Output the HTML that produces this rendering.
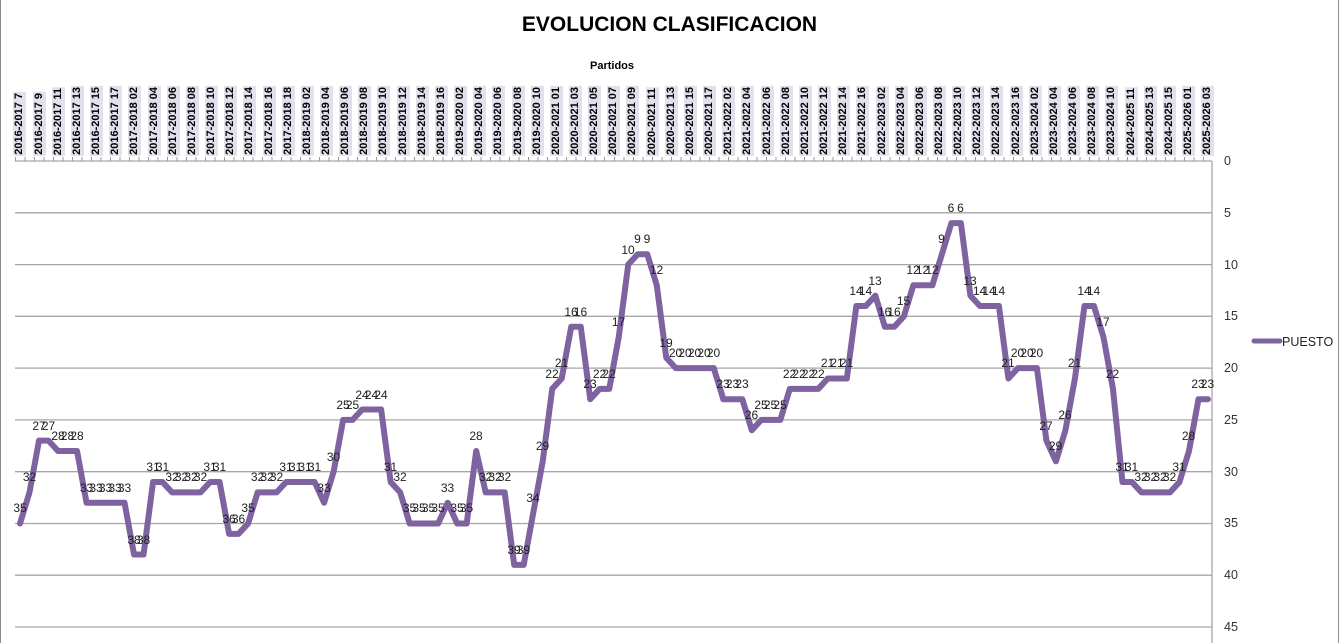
<!DOCTYPE html>
<html><head><meta charset="utf-8"><style>
*{margin:0;padding:0;box-sizing:border-box}
body{width:1339px;height:643px;background:#fff;position:relative;overflow:hidden;font-family:"Liberation Sans",Arial,sans-serif}
#frame{position:absolute;left:0;top:0;width:1339px;height:643px;border:1px solid #8c8c8c;border-top:none;border-bottom:none}
#title{position:absolute;left:0;width:1339px;top:13px;text-align:center;font-weight:bold;font-size:21px;color:#000}
#xt{position:absolute;left:0;width:1224px;top:60px;text-align:center;font-weight:bold;font-size:11px}
#cats{position:absolute;left:10.42px;top:70px;height:86px;display:flex;align-items:flex-end}
#cats div{width:19.16px;flex:none;display:flex;justify-content:center;align-items:flex-end}
#cats span{writing-mode:vertical-rl;transform:rotate(180deg);background:#e4dfec;font-size:11px;font-weight:bold;width:13px;line-height:13px;white-space:nowrap;padding:1px 0}
#ticks{position:absolute;left:15px;top:157px;width:1197px;height:4px;background:repeating-linear-gradient(90deg,#999 0 1px,transparent 1px 9.504px)}
#dl{position:absolute;left:15.25px;top:161px;display:flex}
#dl div{width:9.504px;flex:none;position:relative;height:1px}
#dl span{position:absolute;left:50%;transform:translateX(-50%);top:calc(var(--v) * 10.356px - 22px);font-size:12px;line-height:14px;white-space:nowrap;color:#222}
.yl{position:absolute;left:1224px;font-size:12.5px;line-height:14px;color:#333}
</style></head><body>
<div id="frame"></div>
<div id="title">EVOLUCION CLASIFICACION</div>
<div id="xt">Partidos</div>
<svg width="1339" height="643" style="position:absolute;left:0;top:0">
<g stroke="#a6a6a6" stroke-width="1.3">
<line x1="15" x2="1212" y1="161" y2="161"/><line x1="15" x2="1212" y1="212.8" y2="212.8"/><line x1="15" x2="1212" y1="264.6" y2="264.6"/><line x1="15" x2="1212" y1="316.3" y2="316.3"/><line x1="15" x2="1212" y1="368.1" y2="368.1"/><line x1="15" x2="1212" y1="419.9" y2="419.9"/><line x1="15" x2="1212" y1="471.7" y2="471.7"/><line x1="15" x2="1212" y1="523.5" y2="523.5"/><line x1="15" x2="1212" y1="575.2" y2="575.2"/><line x1="15" x2="1212" y1="627" y2="627"/>
<line x1="1212" x2="1212" y1="161" y2="643"/>
</g>
<polyline transform="translate(20 161) scale(9.504 10.356)" vector-effect="non-scaling-stroke" fill="none" stroke="#7f63a1" stroke-width="6" stroke-linejoin="round" stroke-linecap="round" points="0,35 1,32 2,27 3,27 4,28 5,28 6,28 7,33 8,33 9,33 10,33 11,33 12,38 13,38 14,31 15,31 16,32 17,32 18,32 19,32 20,31 21,31 22,36 23,36 24,35 25,32 26,32 27,32 28,31 29,31 30,31 31,31 32,33 33,30 34,25 35,25 36,24 37,24 38,24 39,31 40,32 41,35 42,35 43,35 44,35 45,33 46,35 47,35 48,28 49,32 50,32 51,32 52,39 53,39 54,34 55,29 56,22 57,21 58,16 59,16 60,23 61,22 62,22 63,17 64,10 65,9 66,9 67,12 68,19 69,20 70,20 71,20 72,20 73,20 74,23 75,23 76,23 77,26 78,25 79,25 80,25 81,22 82,22 83,22 84,22 85,21 86,21 87,21 88,14 89,14 90,13 91,16 92,16 93,15 94,12 95,12 96,12 97,9 98,6 99,6 100,13 101,14 102,14 103,14 104,21 105,20 106,20 107,20 108,27 109,29 110,26 111,21 112,14 113,14 114,17 115,22 116,31 117,31 118,32 119,32 120,32 121,32 122,31 123,28 124,23 125,23"/>
<line x1="1254" x2="1280" y1="341" y2="341" stroke="#7f63a1" stroke-width="5" stroke-linecap="round"/>
<text x="1282" y="346" font-size="12.5" font-family="Liberation Sans, sans-serif" fill="#222">PUESTO</text>
</svg>
<div id="ticks"></div>
<div class="yl" style="top:154px">0</div><div class="yl" style="top:206px">5</div><div class="yl" style="top:258px">10</div><div class="yl" style="top:309px">15</div><div class="yl" style="top:361px">20</div><div class="yl" style="top:413px">25</div><div class="yl" style="top:465px">30</div><div class="yl" style="top:516px">35</div><div class="yl" style="top:568px">40</div><div class="yl" style="top:620px">45</div>
<div id="cats">
<div><span>2016-2017 7</span></div><div><span>2016-2017 9</span></div><div><span>2016-2017 11</span></div><div><span>2016-2017 13</span></div><div><span>2016-2017 15</span></div><div><span>2016-2017 17</span></div>
<div><span>2017-2018 02</span></div><div><span>2017-2018 04</span></div><div><span>2017-2018 06</span></div><div><span>2017-2018 08</span></div><div><span>2017-2018 10</span></div><div><span>2017-2018 12</span></div><div><span>2017-2018 14</span></div><div><span>2017-2018 16</span></div><div><span>2017-2018 18</span></div>
<div><span>2018-2019 02</span></div><div><span>2018-2019 04</span></div><div><span>2018-2019 06</span></div><div><span>2018-2019 08</span></div><div><span>2018-2019 10</span></div><div><span>2018-2019 12</span></div><div><span>2018-2019 14</span></div><div><span>2018-2019 16</span></div>
<div><span>2019-2020 02</span></div><div><span>2019-2020 04</span></div><div><span>2019-2020 06</span></div><div><span>2019-2020 08</span></div><div><span>2019-2020 10</span></div>
<div><span>2020-2021 01</span></div><div><span>2020-2021 03</span></div><div><span>2020-2021 05</span></div><div><span>2020-2021 07</span></div><div><span>2020-2021 09</span></div><div><span>2020-2021 11</span></div><div><span>2020-2021 13</span></div><div><span>2020-2021 15</span></div><div><span>2020-2021 17</span></div>
<div><span>2021-2022 02</span></div><div><span>2021-2022 04</span></div><div><span>2021-2022 06</span></div><div><span>2021-2022 08</span></div><div><span>2021-2022 10</span></div><div><span>2021-2022 12</span></div><div><span>2021-2022 14</span></div><div><span>2021-2022 16</span></div>
<div><span>2022-2023 02</span></div><div><span>2022-2023 04</span></div><div><span>2022-2023 06</span></div><div><span>2022-2023 08</span></div><div><span>2022-2023 10</span></div><div><span>2022-2023 12</span></div><div><span>2022-2023 14</span></div><div><span>2022-2023 16</span></div>
<div><span>2023-2024 02</span></div><div><span>2023-2024 04</span></div><div><span>2023-2024 06</span></div><div><span>2023-2024 08</span></div><div><span>2023-2024 10</span></div>
<div><span>2024-2025 11</span></div><div><span>2024-2025 13</span></div><div><span>2024-2025 15</span></div>
<div><span>2025-2026 01</span></div><div><span>2025-2026 03</span></div>
</div>
<div id="dl">
<div><span style="--v:35">35</span></div><div><span style="--v:32">32</span></div><div><span style="--v:27">27</span></div><div><span style="--v:27">27</span></div><div><span style="--v:28">28</span></div><div><span style="--v:28">28</span></div><div><span style="--v:28">28</span></div><div><span style="--v:33">33</span></div><div><span style="--v:33">33</span></div><div><span style="--v:33">33</span></div>
<div><span style="--v:33">33</span></div><div><span style="--v:33">33</span></div><div><span style="--v:38">38</span></div><div><span style="--v:38">38</span></div><div><span style="--v:31">31</span></div><div><span style="--v:31">31</span></div><div><span style="--v:32">32</span></div><div><span style="--v:32">32</span></div><div><span style="--v:32">32</span></div><div><span style="--v:32">32</span></div>
<div><span style="--v:31">31</span></div><div><span style="--v:31">31</span></div><div><span style="--v:36">36</span></div><div><span style="--v:36">36</span></div><div><span style="--v:35">35</span></div><div><span style="--v:32">32</span></div><div><span style="--v:32">32</span></div><div><span style="--v:32">32</span></div><div><span style="--v:31">31</span></div><div><span style="--v:31">31</span></div>
<div><span style="--v:31">31</span></div><div><span style="--v:31">31</span></div><div><span style="--v:33">33</span></div><div><span style="--v:30">30</span></div><div><span style="--v:25">25</span></div><div><span style="--v:25">25</span></div><div><span style="--v:24">24</span></div><div><span style="--v:24">24</span></div><div><span style="--v:24">24</span></div><div><span style="--v:31">31</span></div>
<div><span style="--v:32">32</span></div><div><span style="--v:35">35</span></div><div><span style="--v:35">35</span></div><div><span style="--v:35">35</span></div><div><span style="--v:35">35</span></div><div><span style="--v:33">33</span></div><div><span style="--v:35">35</span></div><div><span style="--v:35">35</span></div><div><span style="--v:28">28</span></div><div><span style="--v:32">32</span></div>
<div><span style="--v:32">32</span></div><div><span style="--v:32">32</span></div><div><span style="--v:39">39</span></div><div><span style="--v:39">39</span></div><div><span style="--v:34">34</span></div><div><span style="--v:29">29</span></div><div><span style="--v:22">22</span></div><div><span style="--v:21">21</span></div><div><span style="--v:16">16</span></div><div><span style="--v:16">16</span></div>
<div><span style="--v:23">23</span></div><div><span style="--v:22">22</span></div><div><span style="--v:22">22</span></div><div><span style="--v:17">17</span></div><div><span style="--v:10">10</span></div><div><span style="--v:9">9</span></div><div><span style="--v:9">9</span></div><div><span style="--v:12">12</span></div><div><span style="--v:19">19</span></div><div><span style="--v:20">20</span></div>
<div><span style="--v:20">20</span></div><div><span style="--v:20">20</span></div><div><span style="--v:20">20</span></div><div><span style="--v:20">20</span></div><div><span style="--v:23">23</span></div><div><span style="--v:23">23</span></div><div><span style="--v:23">23</span></div><div><span style="--v:26">26</span></div><div><span style="--v:25">25</span></div><div><span style="--v:25">25</span></div>
<div><span style="--v:25">25</span></div><div><span style="--v:22">22</span></div><div><span style="--v:22">22</span></div><div><span style="--v:22">22</span></div><div><span style="--v:22">22</span></div><div><span style="--v:21">21</span></div><div><span style="--v:21">21</span></div><div><span style="--v:21">21</span></div><div><span style="--v:14">14</span></div><div><span style="--v:14">14</span></div>
<div><span style="--v:13">13</span></div><div><span style="--v:16">16</span></div><div><span style="--v:16">16</span></div><div><span style="--v:15">15</span></div><div><span style="--v:12">12</span></div><div><span style="--v:12">12</span></div><div><span style="--v:12">12</span></div><div><span style="--v:9">9</span></div><div><span style="--v:6">6</span></div><div><span style="--v:6">6</span></div>
<div><span style="--v:13">13</span></div><div><span style="--v:14">14</span></div><div><span style="--v:14">14</span></div><div><span style="--v:14">14</span></div><div><span style="--v:21">21</span></div><div><span style="--v:20">20</span></div><div><span style="--v:20">20</span></div><div><span style="--v:20">20</span></div><div><span style="--v:27">27</span></div><div><span style="--v:29">29</span></div>
<div><span style="--v:26">26</span></div><div><span style="--v:21">21</span></div><div><span style="--v:14">14</span></div><div><span style="--v:14">14</span></div><div><span style="--v:17">17</span></div><div><span style="--v:22">22</span></div><div><span style="--v:31">31</span></div><div><span style="--v:31">31</span></div><div><span style="--v:32">32</span></div><div><span style="--v:32">32</span></div>
<div><span style="--v:32">32</span></div><div><span style="--v:32">32</span></div><div><span style="--v:31">31</span></div><div><span style="--v:28">28</span></div><div><span style="--v:23">23</span></div><div><span style="--v:23">23</span></div>
</div>
</body></html>
